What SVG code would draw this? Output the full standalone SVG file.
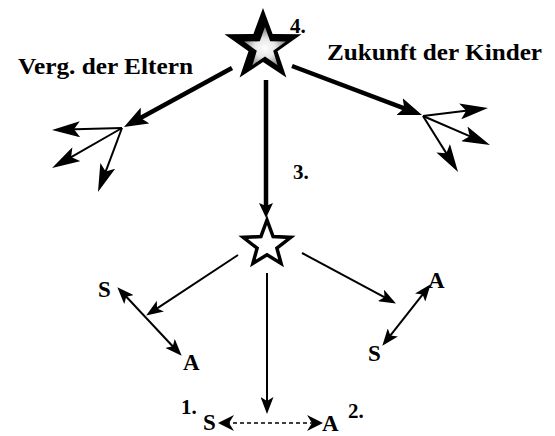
<svg xmlns="http://www.w3.org/2000/svg" width="555" height="436" viewBox="0 0 555 436">
<style>
text{font-family:"Liberation Serif","Times New Roman",serif;font-weight:bold;fill:#000}
.lbl{font-size:23px}
.sa{font-size:23px}
.num{font-size:21px}
.thick{stroke:#000;stroke-width:4.5;fill:none}
.thin{stroke:#000;stroke-width:2;fill:none}
.dash{stroke:#000;stroke-width:1.6;fill:none;stroke-dasharray:4 3}
</style>
<defs>
<radialGradient id="glow" cx="0.5" cy="0.55" r="0.5">
<stop offset="0" stop-color="#fff"/>
<stop offset="0.5" stop-color="#e6e6e6"/>
<stop offset="1" stop-color="#8c8c8c"/>
</radialGradient>
<marker id="hBig" markerUnits="userSpaceOnUse" viewBox="0 0 24 18" refX="10" refY="9" markerWidth="24" markerHeight="18" orient="auto">
<path d="M0,0 L24,9 L0,18 L5,9 Z" fill="#000"/>
</marker>
<marker id="hMid" markerUnits="userSpaceOnUse" viewBox="0 0 15 14" refX="6" refY="7" markerWidth="15" markerHeight="14" orient="auto">
<path d="M0,0 L15,7 L0,14 L3,7 Z" fill="#000"/>
</marker>
<marker id="hLong" markerUnits="userSpaceOnUse" viewBox="0 0 28 16" refX="14" refY="8" markerWidth="28" markerHeight="16" orient="auto">
<path d="M0,0 L28,8 L0,16 L6,8 Z" fill="#000"/>
</marker>
<marker id="hSm" markerUnits="userSpaceOnUse" viewBox="0 0 17 13" refX="8" refY="6.5" markerWidth="17" markerHeight="13" orient="auto-start-reverse">
<path d="M0,0 L17,6.5 L0,13 L4,6.5 Z" fill="#000"/>
</marker>
<marker id="hDash" markerUnits="userSpaceOnUse" viewBox="0 0 16 16" refX="8" refY="8" markerWidth="16" markerHeight="16" orient="auto-start-reverse">
<path d="M0,0 L16,8 L0,16 L5,8 Z" fill="#000"/>
</marker>
</defs>

<g id="star-top">
<polygon points="263,8 272.6,33.9 301.5,34.3 277.5,51.3 286.4,77.5 263,62 239.6,77.5 248.5,51.3 224.5,34.3 253.4,33.9" fill="#000"/>
<polygon points="265,27 270.2,41.3 285.9,41.6 273.2,50.8 277.6,65.2 265,56.6 252.4,65.2 256.8,50.8 244.1,41.6 259.8,41.3" fill="url(#glow)"/>
<text class="num" x="290" y="33">4.</text>
</g>

<g id="label-eltern"><text class="lbl" x="18" y="74" textLength="175" lengthAdjust="spacingAndGlyphs">Verg. der Eltern</text></g>
<g id="label-kinder"><text class="lbl" x="327" y="60" textLength="215" lengthAdjust="spacingAndGlyphs">Zukunft der Kinder</text></g>
<g id="label-3"><text class="num" x="293" y="179">3.</text></g>

<g id="star-bottom">
<polygon points="267,220 273.1,236.6 290.8,237.4 276.9,248.2 281.1,263.4 267,254.8 252.9,263.4 257.1,248.2 243.2,237.4 260.9,236.6" fill="#fff" stroke="#000" stroke-width="3.5" stroke-linejoin="miter"/>
</g>

<g id="left-SA">
<text class="sa" x="98" y="297">S</text>
<text class="sa" x="183" y="370">A</text>
</g>
<g id="right-SA">
<text class="sa" x="428" y="288">A</text>
<text class="sa" x="368" y="361">S</text>
</g>
<g id="bottom-SA">
<text class="num" x="181" y="414">1.</text>
<text class="sa" x="203" y="430">S</text>
<text class="sa" x="322" y="431">A</text>
<text class="num" x="348" y="418">2.</text>
</g>

<g id="connectors">
<line class="thick" x1="232" y1="68" x2="136.3" y2="120.3" marker-end="url(#hBig)"/>
<line class="thick" x1="292" y1="66" x2="408.9" y2="110.1" marker-end="url(#hBig)"/>
<line class="thick" x1="266" y1="80" x2="266" y2="209" marker-end="url(#hMid)"/>

<line class="thin" x1="122" y1="128" x2="66" y2="129.6" marker-end="url(#hLong)"/>
<line class="thin" x1="122" y1="128" x2="64.2" y2="161.1" marker-end="url(#hLong)"/>
<line class="thin" x1="122" y1="128" x2="102.9" y2="178.9" marker-end="url(#hLong)"/>
<line class="thin" x1="423" y1="116" x2="474.1" y2="109.7" marker-end="url(#hLong)"/>
<line class="thin" x1="423" y1="116" x2="477.1" y2="139.4" marker-end="url(#hLong)"/>
<line class="thin" x1="423" y1="116" x2="450.6" y2="160.1" marker-end="url(#hLong)"/>

<line class="thin" x1="238" y1="255" x2="153.7" y2="310.6" marker-end="url(#hSm)"/>
<line class="thin" x1="302" y1="253" x2="388" y2="299.2" marker-end="url(#hSm)"/>
<line class="thin" x1="267" y1="273" x2="267" y2="405" marker-end="url(#hSm)"/>
<line class="thin" x1="123.5" y1="293.8" x2="175.5" y2="349.2" marker-start="url(#hSm)" marker-end="url(#hSm)"/>
<line class="thin" x1="425.1" y1="291.3" x2="387.9" y2="338.7" marker-start="url(#hSm)" marker-end="url(#hSm)"/>
<line class="dash" x1="226" y1="423" x2="315" y2="423" marker-start="url(#hDash)" marker-end="url(#hDash)"/>
</g>
</svg>
